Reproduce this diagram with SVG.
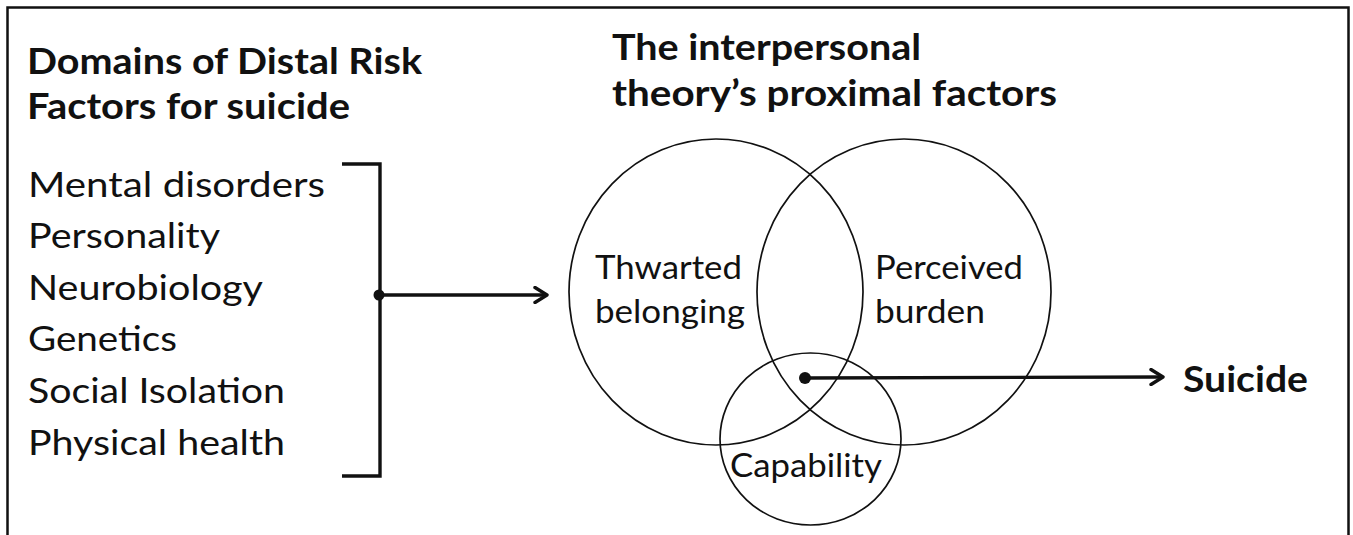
<svg xmlns="http://www.w3.org/2000/svg" width="1353" height="535" viewBox="0 0 1353 535">
<style>
text{font-family:Lato,"Open Sans","Liberation Sans",sans-serif;fill:#111}
.h{font-weight:bold;font-size:37px}
.l{font-size:34px}
.c{font-size:32px}
.circ{fill:none;stroke:#111;stroke-width:1.7}
.ln{fill:none;stroke:#111;stroke-width:3.4}
</style>
<defs>
<marker id="chev" markerWidth="18" markerHeight="18" refX="14" refY="9" orient="auto" markerUnits="userSpaceOnUse">
<path d="M2,1.5 L14,9 L2,16.5" fill="none" stroke="#111" stroke-width="3.4" stroke-linecap="round" stroke-linejoin="round"/>
</marker>
</defs>
<rect x="7.5" y="7.5" width="1341" height="540" fill="#fff" stroke="#111" stroke-width="2.5"/>
<g id="distal-title">
<text class="h" x="27" y="74" textLength="395" lengthAdjust="spacingAndGlyphs">Domains of Distal Risk</text>
<text class="h" x="27" y="119" textLength="323" lengthAdjust="spacingAndGlyphs">Factors for suicide</text>
</g>
<g id="distal-list">
<text class="l" x="28" y="197" textLength="297" lengthAdjust="spacingAndGlyphs">Mental disorders</text>
<text class="l" x="28" y="248" textLength="192" lengthAdjust="spacingAndGlyphs">Personality</text>
<text class="l" x="28" y="300" textLength="235" lengthAdjust="spacingAndGlyphs">Neurobiology</text>
<text class="l" x="28" y="351" textLength="149" lengthAdjust="spacingAndGlyphs">Genetics</text>
<text class="l" x="28" y="403" textLength="257" lengthAdjust="spacingAndGlyphs">Social Isolation</text>
<text class="l" x="28" y="455" textLength="257" lengthAdjust="spacingAndGlyphs">Physical health</text>
</g>
<g id="proximal-title">
<text class="h" x="612" y="60" textLength="309" lengthAdjust="spacingAndGlyphs">The interpersonal</text>
<text class="h" x="612" y="106" textLength="445" lengthAdjust="spacingAndGlyphs">theory’s proximal factors</text>
</g>
<g id="thwarted-belonging">
<ellipse class="circ" cx="716" cy="292" rx="147" ry="153"/>
<text class="c" x="595" y="279" textLength="147" lengthAdjust="spacingAndGlyphs">Thwarted</text>
<text class="c" x="595" y="323" textLength="150" lengthAdjust="spacingAndGlyphs">belonging</text>
</g>
<g id="perceived-burden">
<ellipse class="circ" cx="904" cy="292" rx="147" ry="153"/>
<text class="c" x="875" y="279" textLength="148" lengthAdjust="spacingAndGlyphs">Perceived</text>
<text class="c" x="875" y="323" textLength="110" lengthAdjust="spacingAndGlyphs">burden</text>
</g>
<g id="capability">
<ellipse class="circ" cx="810.5" cy="439" rx="90.5" ry="86"/>
<text class="c" x="730" y="477" textLength="152" lengthAdjust="spacingAndGlyphs">Capability</text>
</g>
<g id="suicide">
<text class="h" x="1183" y="392" textLength="125" lengthAdjust="spacingAndGlyphs">Suicide</text>
</g>
<g id="connectors">
<path class="ln" d="M342,164 H380 V476 H342"/>
<circle cx="379" cy="295" r="5.5" fill="#111"/>
<line class="ln" x1="379" y1="295" x2="547" y2="295" marker-end="url(#chev)"/>
<circle cx="805" cy="378" r="6" fill="#111"/>
<line class="ln" x1="805" y1="378" x2="1163" y2="377" marker-end="url(#chev)"/>
</g>
</svg>
